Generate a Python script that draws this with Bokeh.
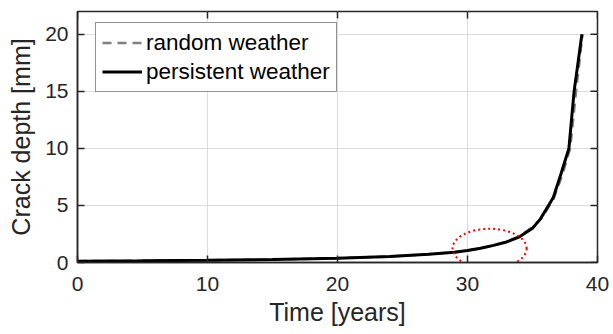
from bokeh.plotting import figure
from bokeh.models import Range1d, FixedTicker, Legend, LegendItem
from bokeh.embed import file_html
from bokeh.resources import INLINE

# data
t_persistent = [0, 5, 10, 15, 20, 24, 27, 29, 30, 31, 32, 33, 34, 35, 35.6, 36.6, 37.2, 37.8, 38.2, 38.8]
d_persistent = [0.12, 0.15, 0.2, 0.26, 0.38, 0.52, 0.72, 0.9, 1.05, 1.25, 1.5, 1.8, 2.25, 3.0, 3.8, 5.7, 7.8, 10.0, 15.0, 20.0]
t_random = [0, 5, 10, 15, 20, 24, 27, 29, 30, 31, 32, 33, 34, 35, 35.7, 36.6, 37.3, 37.9, 38.35, 38.85]
d_random = [0.12, 0.15, 0.2, 0.26, 0.38, 0.52, 0.72, 0.9, 1.05, 1.25, 1.5, 1.82, 2.3, 3.1, 3.9, 5.5, 7.7, 10.0, 15.0, 20.0]
x_ticks = [0, 10, 20, 30, 40]
y_ticks = [0, 5, 10, 15, 20]
x_lim = (0, 40)
y_lim = (0, 22)
highlight_center = (31.7, 1.23)
highlight_size = (5.7, 3.45)

FONT = "Liberation Sans"
AX = "#262626"
TICK_PX = 7
FRAME_W = 520
FRAME_H = 251

p = figure(width=613, height=334, output_backend="svg", toolbar_location=None,
           x_range=Range1d(*x_lim), y_range=Range1d(*y_lim),
           min_border_left=77, min_border_right=16, min_border_top=11, min_border_bottom=72)
p.outline_line_color = AX
p.outline_line_width = 1.5
p.background_fill_color = "white"
p.border_fill_color = "white"

p.xgrid.ticker = FixedTicker(ticks=x_ticks)
p.ygrid.ticker = FixedTicker(ticks=y_ticks)
for g in (p.xgrid, p.ygrid):
    g.grid_line_color = "#dcdcdc"
    g.grid_line_width = 1

def style_axis(ax):
    ax.axis_line_color = AX
    ax.axis_line_width = 1.5
    ax.major_tick_line_color = AX
    ax.major_tick_line_width = 1.5
    ax.major_tick_in = TICK_PX
    ax.major_tick_out = 0
    ax.minor_tick_in = 0
    ax.minor_tick_out = 0
    ax.major_label_text_font = FONT
    ax.major_label_text_color = AX
    ax.major_label_text_font_size = "21px"
    ax.axis_label_text_font = FONT
    ax.axis_label_text_color = AX
    ax.axis_label_text_font_size = "25px"
    ax.axis_label_text_font_style = "normal"

xa = p.xaxis[0]
xa.ticker = FixedTicker(ticks=x_ticks)
xa.axis_label = "Time [years]"
style_axis(xa)
xa.major_label_standoff = 14
xa.axis_label_standoff = 4

ya = p.yaxis[0]
ya.ticker = FixedTicker(ticks=y_ticks)
ya.axis_label = "Crack depth [mm]"
style_axis(ya)
ya.major_label_standoff = 9
ya.axis_label_standoff = 7

# mirrored inward ticks on the top and right edges of the box
x_span = x_lim[1] - x_lim[0]
y_span = y_lim[1] - y_lim[0]
tick_dy = y_span * TICK_PX / FRAME_H
tick_dx = x_span * TICK_PX / FRAME_W
p.segment(x0=x_ticks, y0=[y_lim[1]] * len(x_ticks), x1=x_ticks, y1=[y_lim[1] - tick_dy] * len(x_ticks),
          line_color=AX, line_width=1.5)
p.segment(x0=[x_lim[1]] * len(y_ticks), y0=y_ticks, x1=[x_lim[1] - tick_dx] * len(y_ticks), y1=y_ticks,
          line_color=AX, line_width=1.5)

r_rand = p.line(t_random, d_random, line_color="#7f7f7f", line_width=2.5, line_dash="9 6")
r_pers = p.line(t_persistent, d_persistent, line_color="black", line_width=3)

p.ellipse(x=[highlight_center[0]], y=[highlight_center[1]],
          width=highlight_size[0], height=highlight_size[1],
          fill_color=None, line_color="red", line_width=2, line_dash="2 3")

legend = Legend(items=[LegendItem(label="random weather", renderers=[r_rand]),
                       LegendItem(label="persistent weather", renderers=[r_pers])],
                location=(18, 170))
legend.label_text_font = FONT
legend.label_text_font_size = "22.5px"
legend.label_text_color = "black"
legend.border_line_color = AX
legend.border_line_width = 1
legend.background_fill_color = "white"
legend.background_fill_alpha = 1
legend.glyph_width = 40
legend.glyph_height = 27
legend.label_height = 27
legend.label_standoff = 4
legend.spacing = 2
legend.padding = 6
legend.margin = 0
p.add_layout(legend, "center")

open("out.html", "w").write(file_html(p, INLINE))
